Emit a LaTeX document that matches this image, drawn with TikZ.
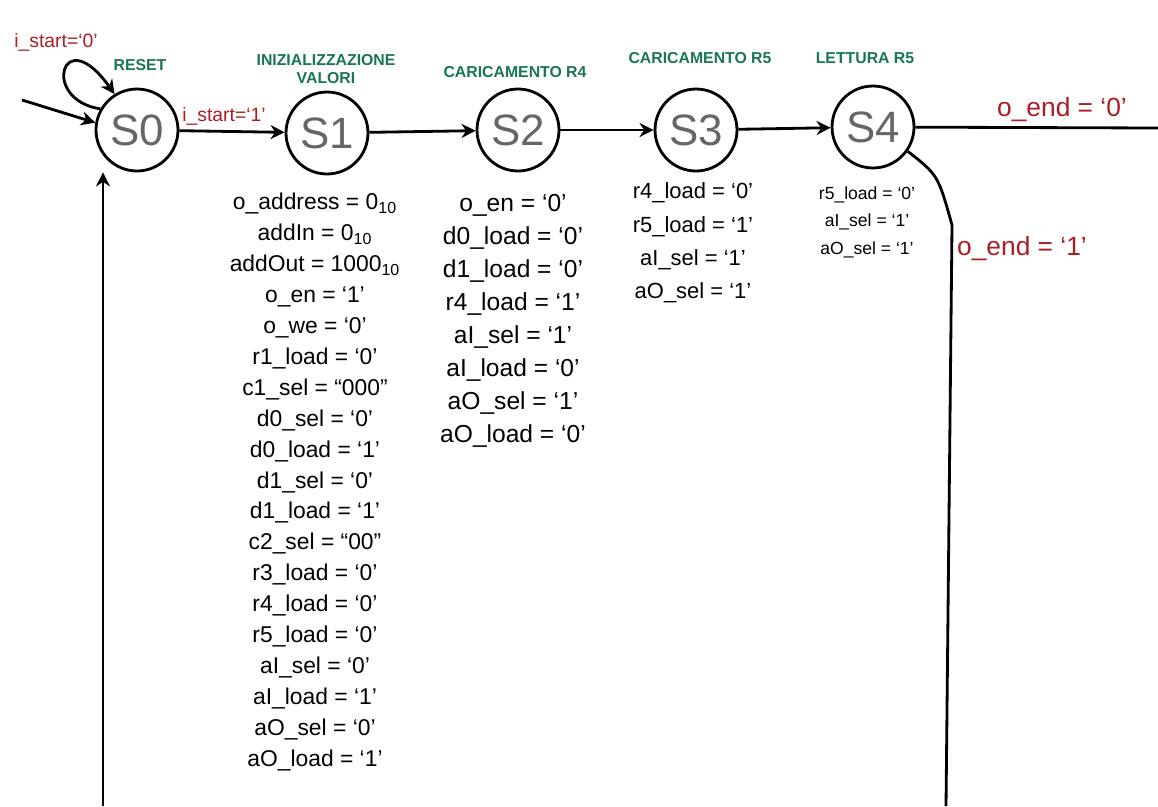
\documentclass[tikz,border=0pt]{standalone}
\usepackage{fontspec}
\setmainfont{Liberation Sans}
\usetikzlibrary{arrows.meta}
\definecolor{stgreen}{RGB}{24,118,84}
\definecolor{condred}{RGB}{172,28,34}
\begin{document}
\begin{tikzpicture}[
    % one unit = one pixel of the sketch, y grows downwards
    x=0.02cm, y=-0.02cm,
    % States of the machine
    state/.style={circle, draw=black, line width=1.6pt, minimum size=1.64cm,
                  inner sep=0pt, text=black!60, font=\fontsize{25}{25}\selectfont},
    % State names (green)
    lbl/.style={text=stgreen, font=\fontsize{9}{10}\selectfont\bfseries, align=center},
    % Transition conditions (red)
    cond/.style={text=condred, font=\fontsize{11}{12}\selectfont},
    bigcond/.style={text=condred, font=\fontsize{15}{16}\selectfont},
    % Output lists under each state
    outs/.style={align=center, inner sep=0pt},
    outa/.style={outs, font=\fontsize{13}{17.6}\selectfont},
    outb/.style={outs, font=\fontsize{14}{18.8}\selectfont},
    outc/.style={outs, font=\fontsize{12.5}{18.9}\selectfont},
    outd/.style={outs, font=\fontsize{10}{15.6}\selectfont},
    % Connectors
    arr/.style={-{Stealth[length=8pt,width=8pt]}, line width=1.6pt},
    wire/.style={line width=1.6pt},
]
\useasboundingbox (0,0) rectangle (1158,806);

%% ── States ──
\node[state] (s0) at (137,130) {S0};
\node[state] (s1) at (327,133) {S1};
\node[state] (s2) at (518,130) {S2};
\node[state] (s3) at (696,130) {S3};
\node[state] (s4) at (873,127) {S4};

%% ── State names ──
\node[lbl] (n0) at (140,65) {RESET};
\node[lbl] (n1) at (326,69) {INIZIALIZZAZIONE\\VALORI};
\node[lbl] (n2) at (515,72) {CARICAMENTO R4};
\node[lbl] (n3) at (700,58) {CARICAMENTO R5};
\node[lbl] (n4) at (865,58) {LETTURA R5};

%% ── Free ends of the wires leaving the sheet ──
\coordinate (init) at (22,100);
\coordinate (rEnd) at (1158,128);
\coordinate (dBend) at (952,225);
\coordinate (dEnd) at (946,806);
\coordinate (lEnd) at (103,806);

%% ── Transitions ──
\draw[arr] (init) -- (s0.170);
\draw[arr] (s0.150) .. controls (40,100) and (62,20) .. (s0.122);
\draw[arr] (s0) -- (s1);
\draw[arr] (s1) -- (s2);
\draw[arr] (s2) -- (s3);
\draw[arr] (s3) -- (s4);
\draw[wire] (s4) -- (rEnd);
\draw[wire] (s4.-35) .. controls (938,175) .. (dBend) -- (dEnd);
\draw[arr] (lEnd) -- (lEnd |- s0.south);

%% ── Conditions ──
\node[cond] (c0) at (56,42) {i\_start=`0'};
\node[cond] (c1) at (224,116) {i\_start=`1'};
\node[bigcond] (c2) at (1062,110) {o\_end = `0'};
\node[bigcond] (c3) at (1022,249) {o\_end = `1'};

%% ── Outputs ──
\node[outa] (o1) at (315,482) {o\_address = 0\textsubscript{10}\\
  addIn = 0\textsubscript{10}\\
  addOut = 1000\textsubscript{10}\\
  o\_en = `1'\\
  o\_we = `0'\\
  r1\_load = `0'\\
  c1\_sel = ``000''\\
  d0\_sel = `0'\\
  d0\_load = `1'\\
  d1\_sel = `0'\\
  d1\_load = `1'\\
  c2\_sel = ``00''\\
  r3\_load = `0'\\
  r4\_load = `0'\\
  r5\_load = `0'\\
  aI\_sel = `0'\\
  aI\_load = `1'\\
  aO\_sel = `0'\\
  aO\_load = `1'};
\node[outb] (o2) at (513,321) {o\_en = `0'\\
  d0\_load = `0'\\
  d1\_load = `0'\\
  r4\_load = `1'\\
  aI\_sel = `1'\\
  aI\_load = `0'\\
  aO\_sel = `1'\\
  aO\_load = `0'};
\node[outc] (o3) at (693,243) {r4\_load = `0'\\
  r5\_load = `1'\\
  aI\_sel = `1'\\
  aO\_sel = `1'};
\node[outd] (o4) at (867,222) {r5\_load = `0'\\
  aI\_sel = `1'\\
  aO\_sel = `1'};

\end{tikzpicture}
\end{document}
